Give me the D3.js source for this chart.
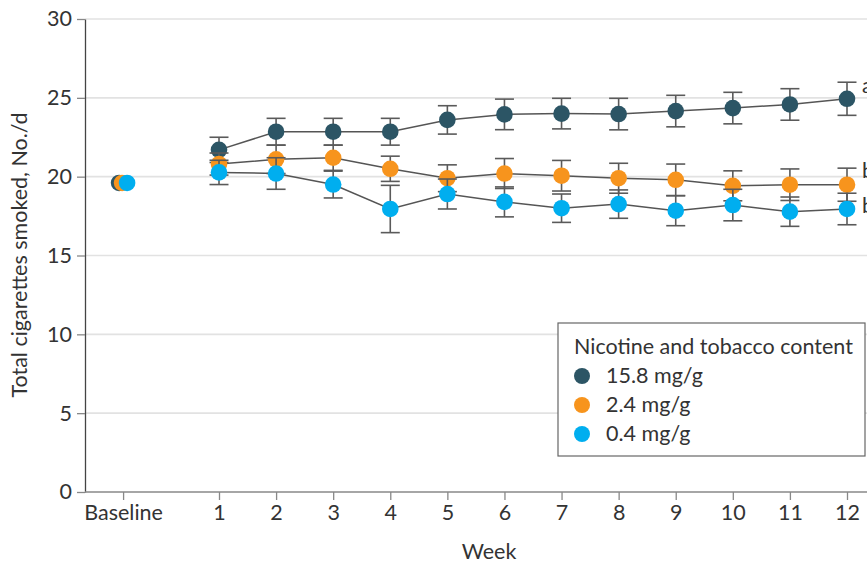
<!DOCTYPE html>
<html>
<head>
<meta charset="utf-8">
<script src="https://cdn.jsdelivr.net/npm/d3@7"></script>
<style>
  body { margin: 0; background: #fff; }
  svg { display: block; font-family: Lato, "Open Sans", sans-serif; }
</style>
</head>
<body>
<svg id="chart"></svg>
<script>
// data
const weeks = [1, 2, 3, 4, 5, 6, 7, 8, 9, 10, 11, 12]
const groups = ['15.8 mg/g', '2.4 mg/g', '0.4 mg/g']
const baseline = [19.6, 19.6, 19.6]
const high = [21.7, 22.85, 22.85, 22.85, 23.6, 23.95, 24.0, 23.97, 24.16, 24.35, 24.58, 24.94]
const highErr = [0.8, 0.85, 0.85, 0.85, 0.9, 0.97, 0.97, 1.0, 1.0, 1.0, 1.0, 1.05]
const mid = [20.8, 21.1, 21.2, 20.5, 19.9, 20.2, 20.06, 19.9, 19.8, 19.42, 19.49, 19.49]
const midErr = [0.7, 0.9, 0.8, 0.8, 0.85, 0.95, 0.97, 0.95, 1.0, 0.95, 1.0, 1.05]
const low = [20.27, 20.2, 19.5, 17.95, 18.9, 18.4, 18.0, 18.26, 17.84, 18.2, 17.78, 17.95]
const lowErr = [0.77, 1.0, 0.85, 1.5, 0.95, 0.95, 0.9, 0.9, 0.95, 1.0, 0.93, 1.0]
const endLabels = ['a', 'b', 'b']
const yTicks = [0, 5, 10, 15, 20, 25, 30]

const WIDTH = 867
const HEIGHT = 565
const AXIS_X = 85
const FONT = 21.5
const BASE_POS = -0.68 // where "Baseline" sits on the week scale
const colors = ['#2c5565', '#f7941d', '#00aeef']

const series = [
  {name: groups[0], values: high, err: highErr, color: colors[0], label: endLabels[0], base: baseline[0], off: -4, ldy: -6},
  {name: groups[1], values: mid, err: midErr, color: colors[1], label: endLabels[1], base: baseline[1], off: -1, ldy: -7},
  {name: groups[2], values: low, err: lowErr, color: colors[2], label: endLabels[2], base: baseline[2], off: 4, ldy: 4}
]

const svg = d3.select('#chart')
  .attr('width', WIDTH)
  .attr('height', HEIGHT)

const x = d3.scaleLinear()
  .domain([1, 12])
  .range([219, 847])
const y = d3.scaleLinear()
  .domain([0, 30])
  .range([492, 19])

// gridlines
svg.append('g')
  .selectAll('line')
  .data(yTicks.filter(d => d > 0))
  .enter().append('line')
    .attr('x1', AXIS_X)
    .attr('x2', WIDTH)
    .attr('y1', d => y(d))
    .attr('y2', d => y(d))
    .attr('stroke', '#e2e2e2')
    .attr('stroke-width', 1.6)

// y axis
const yAxis = svg.append('g')
  .attr('transform', `translate(${AXIS_X},0)`)
  .call(d3.axisLeft(y).tickValues(yTicks).tickSize(8).tickPadding(5).tickSizeOuter(0))
yAxis.select('.domain').attr('stroke', '#444').attr('stroke-width', 1.3)
yAxis.selectAll('.tick line').attr('stroke', '#888').attr('stroke-width', 1.3)
yAxis.selectAll('.tick text')
  .attr('font-size', FONT)
  .attr('fill', '#333')
  .style('font-family', 'Lato')

// x axis
svg.append('line')
  .attr('x1', AXIS_X)
  .attr('x2', WIDTH)
  .attr('y1', y(0))
  .attr('y2', y(0))
  .attr('stroke', '#888')
  .attr('stroke-width', 1.6)
const xAxis = svg.append('g')
  .attr('transform', `translate(0,${y(0)})`)
  .call(d3.axisBottom(x)
    .tickValues([BASE_POS].concat(weeks))
    .tickFormat(d => d === BASE_POS ? 'Baseline' : d)
    .tickSize(8)
    .tickPadding(5))
xAxis.select('.domain').remove()
xAxis.selectAll('.tick line').attr('stroke', '#888').attr('stroke-width', 1.3)
xAxis.selectAll('.tick text')
  .attr('font-size', FONT)
  .attr('fill', '#333')
  .style('font-family', 'Lato')

// axis titles
svg.append('text')
  .attr('transform', `translate(27,255) rotate(-90)`)
  .attr('text-anchor', 'middle')
  .attr('font-size', FONT)
  .attr('fill', '#333')
  .text('Total cigarettes smoked, No./d')
svg.append('text')
  .attr('x', 489)
  .attr('y', 559)
  .attr('text-anchor', 'middle')
  .attr('font-size', FONT)
  .attr('fill', '#333')
  .text('Week')

const line = d3.line()
  .x((d, i) => x(weeks[i]))
  .y(d => y(d))

const R = 8.3
const CAP = 9.5

for (const s of series) {
  const g = svg.append('g').attr('class', 'series')
  g.append('path')
    .attr('d', line(s.values))
    .attr('fill', 'none')
    .attr('stroke', '#555')
    .attr('stroke-width', 1.5)

  const eb = g.selectAll('.err')
    .data(s.values)
    .enter().append('g')
      .attr('class', 'err')
      .attr('stroke', '#5a5a5a')
      .attr('stroke-width', 1.6)
  eb.append('line')
    .attr('x1', (d, i) => x(weeks[i]))
    .attr('x2', (d, i) => x(weeks[i]))
    .attr('y1', (d, i) => y(d + s.err[i]))
    .attr('y2', (d, i) => y(d - s.err[i]))
  eb.append('line')
    .attr('x1', (d, i) => x(weeks[i]) - CAP)
    .attr('x2', (d, i) => x(weeks[i]) + CAP)
    .attr('y1', (d, i) => y(d + s.err[i]))
    .attr('y2', (d, i) => y(d + s.err[i]))
  eb.append('line')
    .attr('x1', (d, i) => x(weeks[i]) - CAP)
    .attr('x2', (d, i) => x(weeks[i]) + CAP)
    .attr('y1', (d, i) => y(d - s.err[i]))
    .attr('y2', (d, i) => y(d - s.err[i]))

  g.selectAll('.dot')
    .data(s.values)
    .enter().append('circle')
      .attr('class', 'dot')
      .attr('cx', (d, i) => x(weeks[i]))
      .attr('cy', d => y(d))
      .attr('r', R)
      .attr('fill', s.color)

  g.append('circle')
    .attr('cx', x(BASE_POS) + s.off)
    .attr('cy', y(s.base))
    .attr('r', R)
    .attr('fill', s.color)

  // significance letter, partly cut off at the right edge as in the original
  g.append('text')
    .attr('x', x(12) + 15)
    .attr('y', y(s.values[s.values.length - 1]) + s.ldy)
    .attr('font-size', FONT)
    .attr('fill', '#333')
    .text(s.label)
}

// legend
const legend = svg.append('g').attr('transform', 'translate(558,323)')
legend.append('rect')
  .attr('width', 307)
  .attr('height', 133)
  .attr('fill', '#fff')
  .attr('stroke', '#666')
  .attr('stroke-width', 1.2)
legend.append('text')
  .attr('x', 16)
  .attr('y', 31)
  .attr('font-size', FONT)
  .attr('fill', '#333')
  .text('Nicotine and tobacco content')
const item = legend.selectAll('.item')
  .data(series)
  .enter().append('g')
    .attr('class', 'item')
    .attr('transform', (d, i) => `translate(0,${53 + i * 29})`)
item.append('circle')
  .attr('cx', 24)
  .attr('cy', 0)
  .attr('r', 8)
  .attr('fill', d => d.color)
item.append('text')
  .attr('x', 48)
  .attr('y', 7)
  .attr('font-size', FONT)
  .attr('fill', '#333')
  .text(d => d.name)
</script>
</body>
</html>
